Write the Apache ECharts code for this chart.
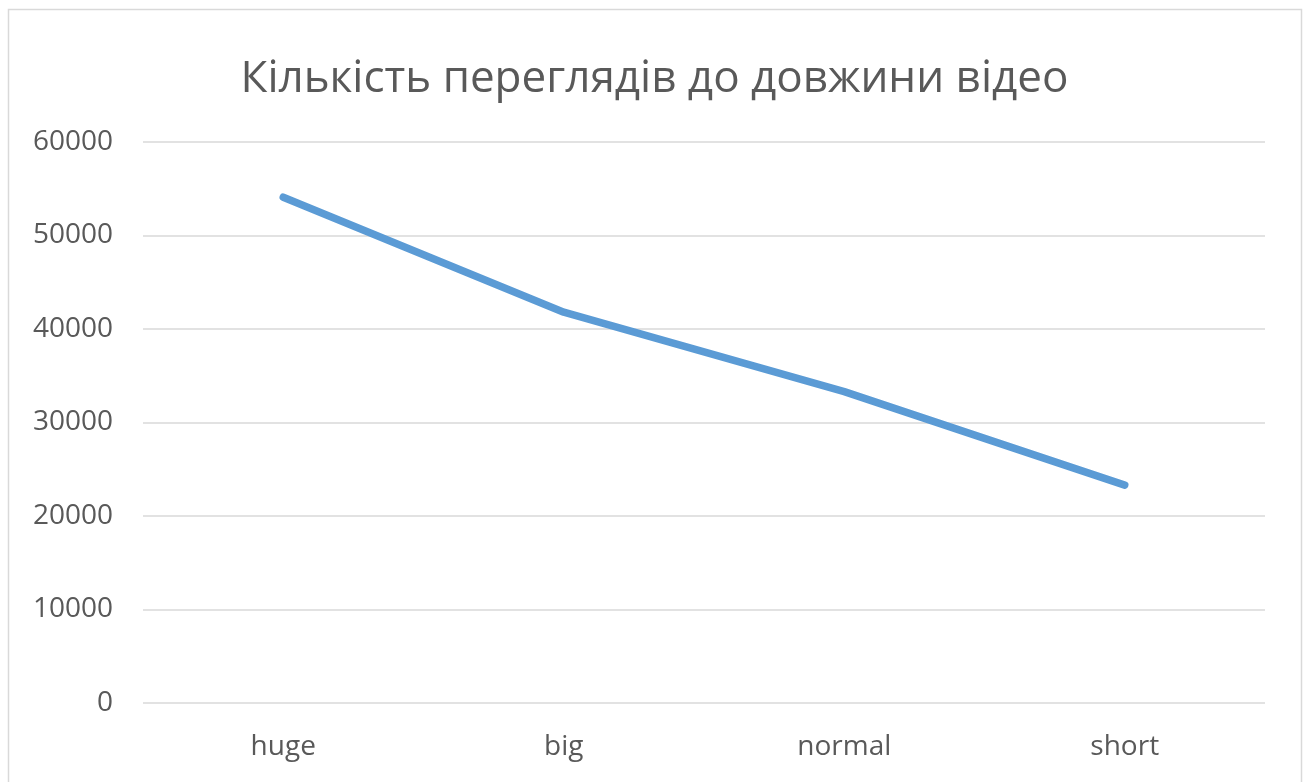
<!DOCTYPE html>
<html>
<head>
<meta charset="utf-8">
<script src="https://cdn.jsdelivr.net/npm/echarts@6/dist/echarts.min.js"></script>
<style>
html,body{margin:0;padding:0;background:#fff;}
#chart{width:1309px;height:782px;}
</style>
</head>
<body>
<div id="chart"></div>
<script>
const titleText = 'Кількість переглядів до довжини відео';
const categories = ['huge', 'big', 'normal', 'short'];
const views = [54100, 41800, 33300, 23300];
const yTicks = { min: 0, max: 60000, interval: 10000 };

const chart = echarts.init(document.getElementById('chart'));
const font = '"Open Sans", "Noto Sans", sans-serif';
chart.setOption({
  backgroundColor: '#ffffff',
  animation: false,
  title: {
    text: titleText,
    left: 'center',
    top: 52,
    textStyle: { fontFamily: font, fontSize: 44, fontWeight: 'normal', color: '#595959' }
  },
  graphic: [{
    type: 'rect',
    shape: { x: 8.5, y: 9.5, width: 1293, height: 820 },
    style: { fill: 'none', stroke: '#d9d9d9', lineWidth: 1.5 },
    silent: true
  }],
  grid: { left: 143, right: 44, top: 142, bottom: 79, containLabel: false },
  xAxis: {
    type: 'category',
    data: categories,
    boundaryGap: true,
    axisLine: { show: false },
    axisTick: { show: false },
    axisLabel: { fontFamily: font, fontSize: 28, color: '#595959', margin: 30 }
  },
  yAxis: {
    type: 'value',
    min: yTicks.min, max: yTicks.max, interval: yTicks.interval,
    axisLine: { show: false },
    axisTick: { show: false },
    axisLabel: { fontFamily: font, fontSize: 28, color: '#595959', margin: 30,
      formatter: function (v) { return String(v); } },
    splitLine: { lineStyle: { color: '#d9d9d9', width: 1.5 } }
  },
  series: [{
    type: 'line',
    data: views,
    showSymbol: false,
    symbol: 'none',
    lineStyle: { color: '#5b9bd5', width: 7.5, cap: 'round', join: 'round' },
    itemStyle: { color: '#5b9bd5' }
  }]
});
</script>
</body>
</html>
